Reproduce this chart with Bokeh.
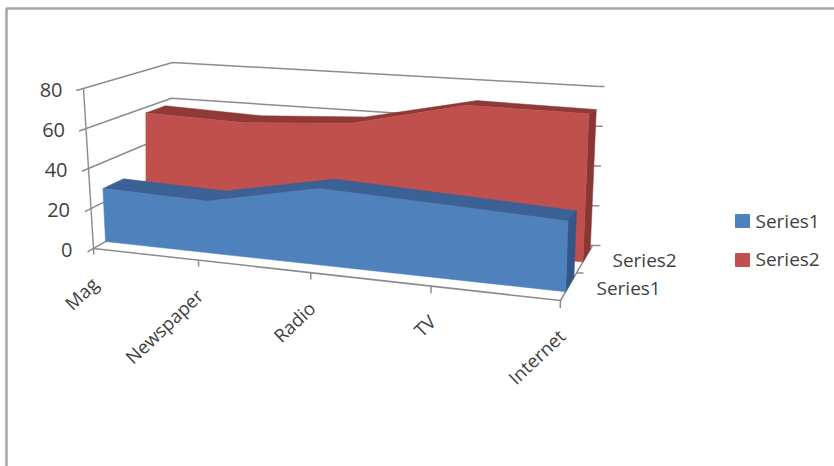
from bokeh.core.properties import value
from bokeh.embed import file_html
from bokeh.models import Range1d
from bokeh.plotting import figure
from bokeh.resources import INLINE

# Chart content
categories = ["Mag", "Newspaper", "Radio", "TV", "Internet"]
series_names = ["Series1", "Series2"]
series1 = [27, 25, 35, 32, 29]
series2 = [57, 55, 58, 70, 69]
value_ticks = [0, 20, 40, 60, 80]

FONT = "Open Sans"
TEXT = "#3f3f3f"
GRID = "#8c8c8c"
BLUE, BLUE_TOP, BLUE_SIDE = "#4f81bd", "#3c6195", "#33578a"
RED, RED_TOP, RED_SIDE = "#c0504d", "#8f3a38", "#8a3634"

# Screen positions of the plot box corners: (category end, depth) -> (at 0, at 80)
BOX = {
    ("L", 0): ((93, 248), (83, 88)),
    ("R", 0): ((560, 300), (567, 98)),
    ("L", 1): ((168, 205), (172, 62)),
    ("R", 1): ((592, 245), (599, 86)),
}
PERSPECTIVE = 1.15


def project(cat, val, depth):
    """Map category index, value and depth (0 front, 1 back) to page coordinates."""
    u = cat / (len(categories) - 1)
    t = u / (u + (1 - u) * PERSPECTIVE) if u > 0 else 0.0
    v = val / value_ticks[-1]
    out = []
    for k in range(2):
        front = (1 - t) * ((1 - v) * BOX[("L", 0)][0][k] + v * BOX[("L", 0)][1][k]) + \
            t * ((1 - v) * BOX[("R", 0)][0][k] + v * BOX[("R", 0)][1][k])
        back = (1 - t) * ((1 - v) * BOX[("L", 1)][0][k] + v * BOX[("L", 1)][1][k]) + \
            t * ((1 - v) * BOX[("R", 1)][0][k] + v * BOX[("R", 1)][1][k])
        out.append((1 - depth) * front + depth * back)
    return out


def polyline(points):
    return [q[0] for q in points], [q[1] for q in points]


p = figure(width=834, height=466, output_backend="svg", toolbar_location=None,
           x_range=Range1d(0, 834), y_range=Range1d(466, 0), min_border=0,
           background_fill_color="white", border_fill_color="white")
p.axis.visible = False
p.grid.visible = False
p.outline_line_color = None

# Slide frame along the top and left edges
p.line([6, 6, 834], [466, 8, 8], line_color="#a6a6a6", line_width=2.5)

last = len(categories) - 1

# Gridlines on the back and left walls, with the value axis tick marks on both
for tick in value_ticks:
    x, y = polyline([project(0, tick, -0.08), project(0, tick, 1), project(last, tick, 1)])
    p.line(x, y, line_color=GRID, line_width=1.5)
    px, py = project(last, tick, 1)
    reach = 8 if tick == 0 else 5
    p.line([px, px + reach], [py, py], line_color=GRID, line_width=1.5)

# Value axis, floor edges and tick marks
x, y = polyline([project(0, 0, 0), project(0, 80, 0)])
p.line(x, y, line_color=GRID, line_width=1.5)
x, y = polyline([project(0, 0, 0), project(last, 0, 0), project(last, 0, 1)])
p.line(x, y, line_color=GRID, line_width=1.5)
for c in range(len(categories)):
    x, y = polyline([project(c, 0, 0), project(c, -3, 0)])
    p.line(x, y, line_color=GRID, line_width=1.5)
px, py = project(last, 0, 0.5)
p.line([px, px + 7], [py, py], line_color=GRID, line_width=1.5)


def draw_area(values, depth_front, depth_back, face, top, side):
    cats = list(range(len(values)))
    # upper surface running back from the front face
    pts = [project(c, v, depth_front) for c, v in zip(cats, values)] + \
        [project(c, v, depth_back) for c, v in reversed(list(zip(cats, values)))]
    x, y = polyline(pts)
    p.patch(x, y, fill_color=top, line_color=top, line_width=0.5)
    # end cap at the last category
    pts = [project(last, 0, depth_front), project(last, values[-1], depth_front),
           project(last, values[-1], depth_back), project(last, 0, depth_back)]
    x, y = polyline(pts)
    p.patch(x, y, fill_color=side, line_color=side, line_width=0.5)
    # front face
    pts = [project(0, 0, depth_front)] + [project(c, v, depth_front) for c, v in zip(cats, values)] + \
        [project(last, 0, depth_front)]
    x, y = polyline(pts)
    p.patch(x, y, fill_color=face, line_color=face, line_width=0.5)


draw_area(series2, 0.70, 0.93, RED, RED_TOP, RED_SIDE)
draw_area(series1, 0.16, 0.42, BLUE, BLUE_TOP, BLUE_SIDE)

# Value labels
for tick in value_ticks:
    px, py = project(0, tick, 0)
    p.text([px - 21], [py + 1], text=[str(tick)], text_font=value(FONT), text_font_size="20px",
           text_color=TEXT, text_align="right", text_baseline="middle")

# Category labels, turned and ending under their tick marks
for c, name in enumerate(categories):
    px, py = project(c, 0, 0)
    p.text([px + 1], [py + 32], text=[name], angle=0.76, text_font=value(FONT),
           text_font_size="18.5px", text_color=TEXT, text_align="right", text_baseline="middle")

# Series labels along the depth axis
for name, d in zip(series_names, (0.25, 0.75)):
    px, py = project(last, 0, d)
    p.text([px + 28], [py + 1], text=[name], text_font=value(FONT), text_font_size="19px",
           text_color=TEXT, text_align="left", text_baseline="middle")

# Legend
for name, colour, yc, yt in zip(series_names, (BLUE, RED), (220.5, 259.5), (220, 258)):
    p.rect([742], [yc], width=14, height=13, fill_color=colour, line_color=colour)
    p.text([755], [yt], text=[name], text_font=value(FONT), text_font_size="19px",
           text_color=TEXT, text_align="left", text_baseline="middle")

open("out.html", "w").write(file_html(p, INLINE))
